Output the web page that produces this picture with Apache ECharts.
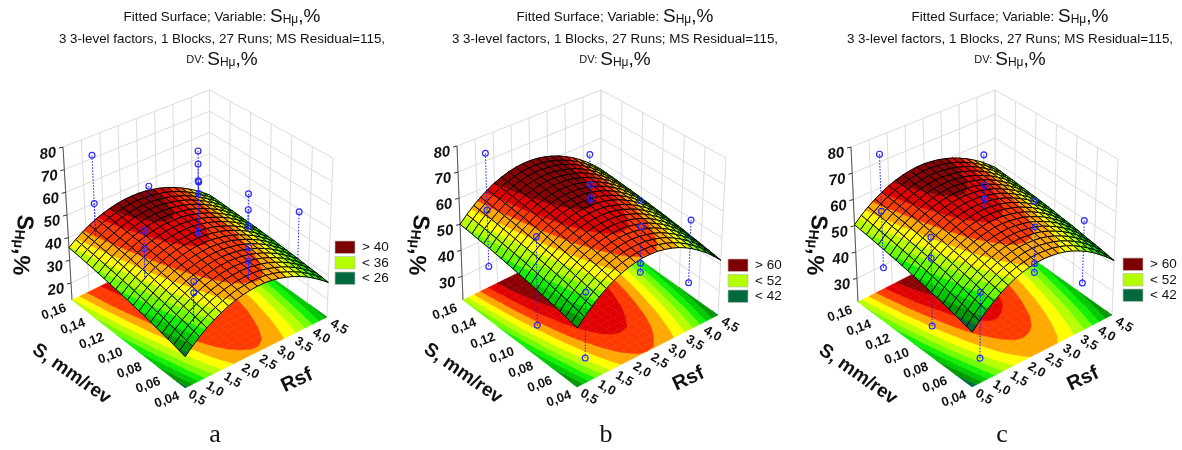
<!DOCTYPE html>
<html><head><meta charset="utf-8"><style>html,body{margin:0;padding:0;background:#fff}#c{width:1182px;height:450px}</style>
<script src="https://cdn.jsdelivr.net/npm/echarts@6/dist/echarts.min.js"></script></head><body><div id="c"></div>
<script>
const rsfNodes=[0.5,0.7,0.9,1.1,1.3,1.5,1.7,1.9,2.1,2.3,2.5,2.7,2.9,3.1,3.3,3.5,3.7,3.9,4.1,4.3,4.5];
const feedNodes=[0.04,0.046,0.052,0.058,0.064,0.07,0.076,0.082,0.088,0.094,0.10,0.106,0.112,0.118,0.124,0.13,0.136,0.142,0.148,0.154,0.16];
const rsfTicks=['0,5','1,0','1,5','2,0','2,5','3,0','3,5','4,0','4,5'];
const rsfTickValues=[0.5,1,1.5,2,2.5,3,3.5,4,4.5];
const feedTicks=['0,04','0,06','0,08','0,10','0,12','0,14','0,16'];
const feedTickValues=[0.04,0.06,0.08,0.10,0.12,0.14,0.16];
const zTicksA=[20,30,40,50,60,70,80];
const zTicksB=[30,40,50,60,70,80];
const surfaceA=[
[25,27.7,30.1,32.3,34.1,35.7,37.1,38.1,38.9,39.4,39.7,39.7,39.4,38.8,37.9,36.8,35.4,33.8,31.8,29.6,27.2],
[25.6,28.3,30.7,32.9,34.7,36.2,37.6,38.6,39.4,39.8,40.1,40.1,39.8,39.2,38.3,37.1,35.7,34.1,32.1,29.9,27.5],
[26.3,28.9,31.3,33.4,35.2,36.8,38.1,39.1,39.8,40.3,40.5,40.5,40.2,39.5,38.6,37.5,36.1,34.4,32.4,30.2,27.8],
[26.9,29.5,31.9,34,35.7,37.3,38.6,39.5,40.3,40.7,40.9,40.9,40.5,39.9,39,37.8,36.4,34.7,32.7,30.5,28],
[27.5,30.1,32.4,34.5,36.2,37.7,39,40,40.7,41.1,41.3,41.2,40.9,40.2,39.3,38.1,36.6,35,32.9,30.7,28.2],
[28.1,30.7,32.9,35,36.7,38.2,39.5,40.4,41.1,41.5,41.7,41.6,41.2,40.6,39.6,38.4,36.9,35.3,33.2,31,28.5],
[28.7,31.2,33.5,35.5,37.2,38.7,39.9,40.8,41.5,41.9,42.1,41.9,41.5,40.9,39.9,38.7,37.2,35.5,33.4,31.2,28.7],
[29.3,31.8,34,36,37.7,39.2,40.4,41.2,41.9,42.3,42.4,42.3,41.8,41.2,40.2,39,37.5,35.8,33.7,31.4,28.9],
[29.8,32.3,34.5,36.5,38.2,39.6,40.8,41.6,42.3,42.6,42.8,42.6,42.1,41.5,40.4,39.2,37.7,36,33.9,31.6,29.1],
[30.4,32.8,35,37,38.6,40,41.2,42,42.6,43,43.1,42.9,42.4,41.7,40.7,39.5,37.9,36.2,34.1,31.8,29.3],
[30.9,33.4,35.5,37.5,39.1,40.5,41.6,42.4,43,43.3,43.4,43.2,42.7,42,41,39.7,38.2,36.4,34.3,32,29.5],
[31.4,33.9,36,37.9,39.5,40.9,41.9,42.8,43.3,43.6,43.7,43.5,43,42.3,41.2,39.9,38.4,36.6,34.5,32.2,29.6],
[31.9,34.3,36.4,38.3,39.9,41.3,42.3,43.1,43.7,43.9,44,43.8,43.2,42.5,41.4,40.1,38.6,36.8,34.7,32.3,29.8],
[32.4,34.8,36.9,38.8,40.3,41.6,42.6,43.5,44,44.2,44.3,44,43.5,42.7,41.6,40.3,38.8,37,34.8,32.5,29.9],
[32.9,35.3,37.3,39.2,40.7,42,43,43.8,44.3,44.5,44.5,44.3,43.7,42.9,41.8,40.5,38.9,37.1,35,32.6,30],
[33.4,35.7,37.8,39.6,41.1,42.4,43.3,44.1,44.6,44.8,44.8,44.5,43.9,43.2,42,40.7,39.1,37.3,35.1,32.8,30.1],
[33.9,36.2,38.2,40,41.4,42.7,43.6,44.4,44.9,45.1,45,44.7,44.1,43.3,42.2,40.9,39.2,37.4,35.2,32.9,30.2],
[34.3,36.6,38.6,40.4,41.8,43.1,44,44.7,45.2,45.3,45.3,44.9,44.3,43.5,42.4,41,39.4,37.5,35.3,33,30.3],
[34.8,37,39,40.7,42.2,43.4,44.3,45,45.4,45.6,45.5,45.1,44.5,43.7,42.5,41.2,39.5,37.6,35.4,33.1,30.4],
[35.2,37.4,39.3,41.1,42.5,43.7,44.5,45.2,45.7,45.8,45.7,45.3,44.6,43.9,42.7,41.3,39.6,37.7,35.5,33.1,30.5],
[35.6,37.8,39.7,41.4,42.8,44,44.8,45.5,45.9,46,45.9,45.5,44.8,44,42.8,41.4,39.7,37.8,35.6,33.2,30.5]];
const surfaceB=[
[41.6,44.3,46.8,48.9,50.8,52.4,53.7,54.7,55.4,55.9,56,55.9,55.4,54.7,53.7,52.4,50.8,48.9,46.8,44.3,41.6],
[42.1,44.8,47.3,49.4,51.3,52.9,54.2,55.2,55.9,56.4,56.5,56.4,55.8,55.1,54.1,52.8,51.2,49.3,47.2,44.7,42],
[42.7,45.4,47.8,49.9,51.8,53.4,54.7,55.7,56.4,56.8,56.9,56.8,56.3,55.6,54.6,53.2,51.6,49.7,47.6,45.1,42.4],
[43.2,45.9,48.3,50.4,52.3,53.9,55.1,56.1,56.8,57.3,57.4,57.2,56.7,56,55,53.6,52,50.1,48,45.5,42.7],
[43.7,46.3,48.8,50.9,52.7,54.3,55.6,56.6,57.2,57.7,57.8,57.6,57.1,56.4,55.4,54,52.4,50.5,48.3,45.8,43.1],
[44.2,46.8,49.3,51.4,53.2,54.8,56,57,57.7,58.1,58.2,58.1,57.5,56.8,55.8,54.4,52.8,50.9,48.7,46.2,43.4],
[44.6,47.3,49.7,51.8,53.6,55.2,56.5,57.4,58.1,58.5,58.6,58.4,57.9,57.2,56.1,54.8,53.1,51.2,49,46.5,43.8],
[45.1,47.8,50.2,52.3,54.1,55.7,56.9,57.8,58.5,58.9,59,58.8,58.3,57.5,56.5,55.1,53.5,51.6,49.4,46.9,44.1],
[45.5,48.2,50.6,52.7,54.5,56.1,57.3,58.2,58.9,59.3,59.4,59.2,58.7,57.9,56.8,55.5,53.8,51.9,49.7,47.2,44.4],
[46,48.6,51,53.1,54.9,56.5,57.7,58.6,59.3,59.7,59.7,59.6,59,58.2,57.2,55.8,54.1,52.2,50,47.5,44.7],
[46.4,49.1,51.5,53.5,55.3,56.9,58.1,59,59.7,60.1,60.1,59.9,59.4,58.6,57.5,56.1,54.5,52.5,50.3,47.8,45],
[46.8,49.5,51.9,53.9,55.7,57.2,58.4,59.4,60,60.4,60.4,60.2,59.7,58.9,57.8,56.4,54.8,52.8,50.6,48,45.2],
[47.2,49.9,52.2,54.3,56.1,57.6,58.8,59.7,60.4,60.7,60.8,60.6,60,59.2,58.1,56.7,55,53.1,50.9,48.3,45.5],
[47.6,50.3,52.6,54.7,56.4,58,59.1,60.1,60.7,61.1,61.1,60.9,60.3,59.5,58.4,57,55.3,53.4,51.1,48.6,45.7],
[48,50.6,53,55,56.8,58.3,59.5,60.4,61,61.4,61.4,61.2,60.6,59.8,58.7,57.2,55.6,53.6,51.4,48.8,46],
[48.4,51,53.3,55.4,57.1,58.6,59.8,60.7,61.3,61.7,61.7,61.5,60.9,60,59,57.5,55.8,53.9,51.6,49,46.2],
[48.7,51.3,53.7,55.7,57.4,58.9,60.1,61,61.6,62,62,61.7,61.1,60.3,59.2,57.7,56.1,54.1,51.8,49.2,46.4],
[49,51.7,54,56,57.7,59.3,60.4,61.3,61.9,62.2,62.3,62,61.4,60.5,59.5,58,56.3,54.3,52,49.5,46.6],
[49.4,52,54.3,56.3,58,59.6,60.7,61.6,62.2,62.5,62.5,62.2,61.7,60.8,59.7,58.2,56.5,54.5,52.2,49.7,46.8],
[49.7,52.3,54.6,56.6,58.3,59.8,60.9,61.8,62.4,62.8,62.8,62.5,61.9,61,59.9,58.4,56.7,54.7,52.4,49.8,46.9],
[50,52.6,54.9,56.9,58.6,60.1,61.2,62.1,62.7,63,63,62.7,62.1,61.2,60.1,58.6,56.9,54.9,52.6,50,47.1]];
const surfaceC=[
[40.2,42.9,45.3,47.4,49.2,50.8,52.1,53.1,53.8,54.3,54.5,54.4,54.1,53.5,52.6,51.4,50,48.3,46.3,44.1,41.6],
[40.8,43.5,45.9,48,49.8,51.3,52.6,53.6,54.3,54.8,55,54.9,54.6,54,53.1,51.9,50.4,48.7,46.7,44.5,42],
[41.4,44.1,46.5,48.5,50.3,51.9,53.2,54.1,54.8,55.3,55.5,55.4,55,54.4,53.5,52.3,50.9,49.2,47.2,45,42.5],
[42,44.7,47,49.1,50.9,52.4,53.7,54.6,55.3,55.8,55.9,55.8,55.5,54.9,53.9,52.7,51.3,49.6,47.6,45.4,42.9],
[42.6,45.3,47.6,49.6,51.4,52.9,54.1,55.1,55.8,56.2,56.4,56.2,55.9,55.3,54.3,53.1,51.7,50,48,45.7,43.2],
[43.2,45.8,48.1,50.2,51.9,53.4,54.6,55.6,56.2,56.7,56.8,56.7,56.3,55.7,54.8,53.5,52.1,50.4,48.4,46.1,43.6],
[43.8,46.4,48.7,50.7,52.4,53.9,55.1,56,56.7,57.1,57.3,57.1,56.7,56.1,55.1,53.9,52.5,50.8,48.8,46.5,44],
[44.3,46.9,49.2,51.2,52.9,54.4,55.6,56.5,57.1,57.6,57.7,57.5,57.1,56.5,55.5,54.3,52.9,51.1,49.1,46.9,44.4],
[44.9,47.4,49.7,51.7,53.3,54.8,56,56.9,57.5,58,58.1,57.9,57.5,56.8,55.9,54.7,53.2,51.5,49.5,47.2,44.7],
[45.4,48,50.2,52.1,53.8,55.3,56.4,57.3,58,58.4,58.5,58.3,57.9,57.2,56.3,55,53.6,51.8,49.8,47.5,45],
[45.9,48.5,50.7,52.6,54.3,55.7,56.9,57.8,58.4,58.8,58.9,58.7,58.3,57.6,56.6,55.4,53.9,52.2,50.2,47.9,45.4],
[46.4,49,51.1,53.1,54.7,56.1,57.3,58.2,58.7,59.1,59.2,59,58.6,57.9,56.9,55.7,54.2,52.5,50.5,48.2,45.7],
[46.9,49.4,51.6,53.5,55.1,56.5,57.7,58.5,59.1,59.5,59.6,59.4,58.9,58.2,57.3,56,54.5,52.8,50.8,48.5,46],
[47.4,49.9,52,53.9,55.5,56.9,58,58.9,59.5,59.9,59.9,59.7,59.3,58.5,57.6,56.3,54.8,53.1,51.1,48.8,46.3],
[47.8,50.3,52.5,54.3,55.9,57.3,58.4,59.3,59.8,60.2,60.3,60,59.6,58.8,57.9,56.6,55.1,53.4,51.4,49,46.5],
[48.3,50.8,52.9,54.8,56.3,57.7,58.8,59.6,60.2,60.5,60.6,60.3,59.9,59.1,58.2,56.9,55.4,53.6,51.6,49.3,46.8],
[48.7,51.2,53.3,55.1,56.7,58.1,59.1,60,60.5,60.8,60.9,60.6,60.2,59.4,58.4,57.1,55.7,53.9,51.9,49.5,47],
[49.2,51.6,53.7,55.5,57.1,58.4,59.5,60.3,60.8,61.2,61.2,60.9,60.5,59.7,58.7,57.4,55.9,54.1,52.1,49.8,47.3],
[49.6,52,54.1,55.9,57.4,58.8,59.8,60.6,61.1,61.5,61.5,61.2,60.7,59.9,58.9,57.7,56.2,54.4,52.4,50,47.5],
[50,52.4,54.4,56.3,57.8,59.1,60.1,60.9,61.4,61.7,61.7,61.5,61,60.2,59.2,57.9,56.4,54.6,52.6,50.2,47.7],
[50.4,52.8,54.8,56.6,58.1,59.4,60.4,61.2,61.7,62,62,61.7,61.2,60.4,59.4,58.1,56.6,54.8,52.8,50.4,47.9]];
const pointsA=[[1,.05,49],[1,.05,44.4],[1,.10,56.7],[1,.10,49],[1,.15,75.8],[1,.15,54.5],[2.52,.05,52.9],[2.52,.05,47.2],[2.52,.10,67.5],[2.52,.10,62.5],[2.52,.10,46],[2.52,.15,51.9],[3.9,.05,58.6],[3.9,.10,53],[3.9,.10,46],[3.9,.10,38.8],[3.9,.15,58.4],[3.9,.15,52.3],[3.9,.15,44.6]];
const pointsB=[[1,.05,48.9],[1,.05,25.5],[1,.10,57.2],[1,.10,24.5],[1,.15,76.8],[1,.15,55],[1,.15,33.4],[2.52,.05,63.7],[2.52,.05,50.3],[2.52,.05,47],[2.52,.10,67.8],[2.52,.10,62.6],[3.9,.05,58],[3.9,.05,34.5],[3.9,.10,53.5],[3.9,.15,59.5]];
const pointsC=[[1,.05,48.9],[1,.05,25.5],[1,.10,57.2],[1,.10,49.5],[1,.10,24.5],[1,.15,76.8],[1,.15,55],[1,.15,33.4],[2.52,.05,63.7],[2.52,.05,50.3],[2.52,.05,47],[2.52,.10,67.8],[2.52,.10,62.6],[3.9,.05,58],[3.9,.05,34.5],[3.9,.10,53.5],[3.9,.15,59.5]];
const levelsA=[26,28,30,32,34,36,38,40,43,44.6];
const levelsB=[42,44,46,48,50,52,54,56,58,60];
const bandColors=['#006a3c','#009a00','#00c800','#10f000','#70ff00','#b8ff00','#ffff00','#ffa800','#ff3a00','#e00000','#8a0000'];
const legendA=['> 40','< 36','< 26'];
const legendB=['> 60','< 52','< 42'];
const legendSwatch=['#7d0000','#b4ff00','#006a3c'];
const captions=['a','b','c'];

const panels=[
 {surf:surfaceA,pts:pointsA,levels:levelsA,zMin:12.5,zTicks:zTicksA,legend:legendA,cap:captions[0],
  F:[185,388],R:[327,317],L:[72,300],B:[209.5,233],Ft:[186,218],Rt:[333,158],Lt:[63,147],Bt:[209.5,90],
  cx:222,lx:335,ly:241,capX:215,nameX:22},
 {surf:surfaceB,pts:pointsB,levels:levelsB,zMin:21,zTicks:zTicksB,legend:legendB,cap:captions[1],
  F:[577,387],R:[718,315],L:[463,300],B:[601,232],Ft:[578,218],Rt:[726,158],Lt:[457,146],Bt:[601,90],
  cx:615,lx:728,ly:259,capX:606,nameX:418},
 {surf:surfaceC,pts:pointsC,levels:levelsB,zMin:21,zTicks:zTicksB,legend:legendB,cap:captions[2],
  F:[972,387],R:[1112,315],L:[858,302],B:[995,232],Ft:[973,218],Rt:[1118,159],Lt:[851,147],Bt:[995,90],
  cx:1010,lx:1123,ly:258,capX:1002,nameX:816}
];
const lm=echarts.number.linearMap;
function proj(p,r,s,z){
 const u=lm(r,[0.5,4.5],[0,1]),v=lm(s,[0.04,0.16],[0,1]),w=lm(z,[p.zMin,80],[0,1]);
 const f=k=>{
  const lo=(1-u)*(1-v)*p.F[k]+u*(1-v)*p.R[k]+(1-u)*v*p.L[k]+u*v*p.B[k];
  const hi=(1-u)*(1-v)*p.Ft[k]+u*(1-v)*p.Rt[k]+(1-u)*v*p.Lt[k]+u*v*p.Bt[k];
  return lo*(1-w)+hi*w;};
 return [f(0),f(1)];
}
function clip(poly,val,keepAbove){
 const out=[];
 for(let i=0;i<poly.length;i++){
  const a=poly[i],b=poly[(i+1)%poly.length];
  const ia=keepAbove?a[2]>=val:a[2]<val, ib=keepAbove?b[2]>=val:b[2]<val;
  if(ia)out.push(a);
  if(ia!==ib){const t=(val-a[2])/(b[2]-a[2]);out.push([a[0]+t*(b[0]-a[0]),a[1]+t*(b[1]-a[1]),val]);}
 }
 return out;
}
function bands(p,i,j,flat){
 const s=p.surf;
 const q=[[rsfNodes[i],feedNodes[j],s[j][i]],[rsfNodes[i+1],feedNodes[j],s[j][i+1]],[rsfNodes[i+1],feedNodes[j+1],s[j+1][i+1]],[rsfNodes[i],feedNodes[j+1],s[j+1][i]]];
 const ch=[];
 for(let b=0;b<=p.levels.length;b++){
  let poly=q;
  if(b>0)poly=clip(poly,p.levels[b-1],true);
  if(b<p.levels.length&&poly.length)poly=clip(poly,p.levels[b],false);
  if(poly.length<3)continue;
  ch.push({type:'polygon',shape:{points:poly.map(a=>proj(p,a[0],a[1],flat?p.zMin:a[2]))},style:{fill:bandColors[b],stroke:bandColors[b],lineWidth:0.5}});
 }
 if(!flat)ch.push({type:'polygon',shape:{points:q.map(a=>proj(p,a[0],a[1],a[2]))},style:{fill:'none',stroke:'#000',lineWidth:1}});
 return {type:'group',children:ch};
}
function surfaceAt(p,r,s){
 let i=0,j=0;
 while(i<rsfNodes.length-2&&rsfNodes[i+1]<r)i++;
 while(j<feedNodes.length-2&&feedNodes[j+1]<s)j++;
 const u=(r-rsfNodes[i])/(rsfNodes[i+1]-rsfNodes[i]),v=(s-feedNodes[j])/(feedNodes[j+1]-feedNodes[j]);
 const g=p.surf;
 return (1-u)*(1-v)*g[j][i]+u*(1-v)*g[j][i+1]+(1-u)*v*g[j+1][i]+u*v*g[j+1][i+1];
}
const series=[];
function add(data,fn,z){series.push({type:'custom',coordinateSystem:'none',silent:true,animation:false,clip:false,z:z,data:data,renderItem:(ps)=>fn(ps.dataIndex)});}
const AX='Liberation Sans, Arial, sans-serif';
function txt(x,y,text,font,rotDeg,extra){
 return {type:'text',x:x,y:y,rotation:(rotDeg||0)*Math.PI/180,style:Object.assign({text:text,font:font,fill:'#111',align:'center',verticalAlign:'middle'},extra||{})};
}
panels.forEach(p=>{
 const rMin=0.5,rMax=4.5,sMin=.04,sMax=.16;
 const wall='#dcdcdc';
 const seg=(a,b,c,w)=>({type:'line',shape:{x1:a[0],y1:a[1],x2:b[0],y2:b[1]},style:{stroke:c||wall,lineWidth:w||1}});
 const wallEls=[];
 p.zTicks.forEach(z=>{wallEls.push(seg(proj(p,rMin,sMax,z),proj(p,rMax,sMax,z)));wallEls.push(seg(proj(p,rMax,sMax,z),proj(p,rMax,sMin,z)));});
 rsfTickValues.forEach(r=>wallEls.push(seg(proj(p,r,sMax,p.zMin),proj(p,r,sMax,80))));
 feedTickValues.forEach(s=>wallEls.push(seg(proj(p,rMax,s,p.zMin),proj(p,rMax,s,80))));
 wallEls.push(seg(proj(p,rMin,sMax,p.zMin),proj(p,rMin,sMax,80),'#555'));
 p.zTicks.forEach(z=>{const a=proj(p,rMin,sMax,z);wallEls.push(seg(a,[a[0]-4,a[1]+1],'#333'));});
 add([0],()=>({type:'group',children:wallEls}),1);
 const cells=[];
 for(let j=feedNodes.length-2;j>=0;j--)for(let i=rsfNodes.length-2;i>=0;i--)cells.push([i,j]);
 add(cells,k=>bands(p,cells[k][0],cells[k][1],true),2);
 add(cells,k=>bands(p,cells[k][0],cells[k][1],false),3);
 add(p.pts,k=>{
  const d=p.pts[k],a=proj(p,d[0],d[1],d[2]),b=proj(p,d[0],d[1],surfaceAt(p,d[0],d[1]));
  return {type:'group',children:[
   {type:'line',shape:{x1:a[0],y1:a[1],x2:b[0],y2:b[1]},style:{stroke:'#2020ff',lineWidth:1,lineDash:[1.5,1.5]}},
   {type:'circle',shape:{cx:a[0],cy:a[1],r:2.9},style:{fill:'none',stroke:'#2828ff',lineWidth:1.2}}]};
 },4);
 const els=[];
 p.zTicks.forEach(z=>{const a=proj(p,rMin,sMax,z);els.push(txt(a[0]-15,a[1]+7,String(z),'italic bold 15px '+AX,8));});
 rsfTicks.forEach((t,i)=>{const a=proj(p,rsfTickValues[i],sMin,p.zMin);els.push(txt(a[0]+12,a[1]+10,t,'bold 13px '+AX,-30));});
 feedTicks.forEach((t,i)=>{const a=proj(p,rMin,feedTickValues[i],p.zMin);els.push(txt(a[0]-18,a[1]+12,t,'bold 13px '+AX,20));});
 const mid=(a,b)=>[(a[0]+b[0])/2,(a[1]+b[1])/2];
 const rm=mid(p.F,p.R),sm=mid(p.F,p.L);
 els.push(txt(rm[0]+41,rm[1]+28,'Rsf','bold 20px '+AX,25));
 els.push(txt(sm[0]-57,sm[1]+30,'S, mm/rev','bold 19px '+AX,-35));
 els.push(txt(p.nameX,245,'{s|S}{h|Hμ}{s|,%}','bold 22px '+AX,-95,{rich:{s:{font:'bold 23px '+AX,fill:'#111'},h:{font:'bold 14px '+AX,fill:'#111',padding:[8,0,0,0]}}}));
 els.push(txt(p.capX,435,p.cap,'26px Liberation Serif, serif',0));
 els.push(txt(p.cx,17,'{t|Fitted Surface; Variable: }{s|S}{h|Hμ}{s|,%}','13px '+AX,0,{rich:{t:{font:'13.4px '+AX,fill:'#111'},s:{font:'19px '+AX,fill:'#111'},h:{font:'12px '+AX,fill:'#111',padding:[6,0,0,0]}}}));
 els.push(txt(p.cx,39,'3 3-level factors, 1 Blocks, 27 Runs; MS Residual=115,','13.4px '+AX,0));
 els.push(txt(p.cx,60,'{t|DV: }{s|S}{h|Hμ}{s|,%}','11px '+AX,0,{rich:{t:{font:'11px '+AX,fill:'#111'},s:{font:'19px '+AX,fill:'#111'},h:{font:'12px '+AX,fill:'#111',padding:[6,0,0,0]}}}));
 p.legend.forEach((t,i)=>{
  const y=p.ly+i*15.5;
  els.push({type:'rect',shape:{x:p.lx,y:y,width:20,height:12.5},style:{fill:legendSwatch[i],stroke:'#bbb',lineWidth:0.7}});
  els.push(txt(p.lx+27,y+6.5,t,'13.5px '+AX,0,{align:'left'}));
 });
 add([0],()=>({type:'group',children:els}),5);
});
const chart=echarts.init(document.getElementById('c'),null,{renderer:'canvas'});
chart.setOption({animation:false,backgroundColor:'#fff',series:series});
</script></body></html>
